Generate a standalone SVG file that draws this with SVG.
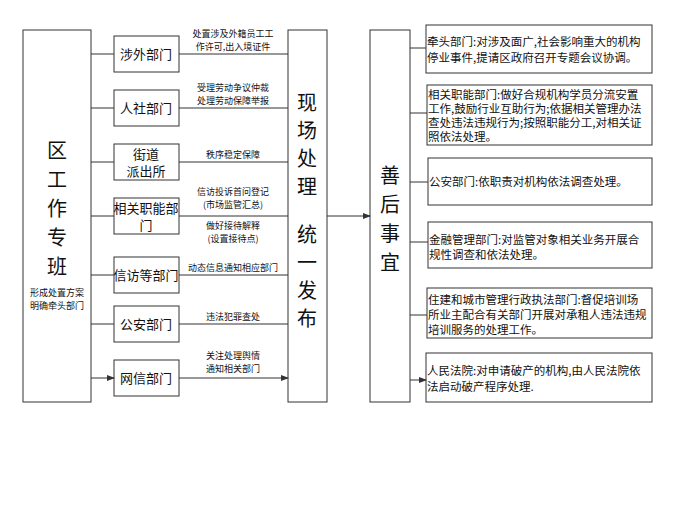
<svg xmlns="http://www.w3.org/2000/svg" width="700" height="525" viewBox="0 0 700 525">
<style>
.b{fill:#fff;stroke:#333;stroke-width:1}
text{font-family:"Noto Sans CJK SC","Noto Sans",sans-serif;fill:#111}
.d{font-size:13px;text-anchor:middle}
.s{font-size:9px;text-anchor:middle}
.r{font-size:11.5px}
.big{font-size:20px;text-anchor:middle}
.c{stroke:#333;stroke-width:1;fill:none;marker-end:url(#a)}
</style>
<defs><marker id="a" markerWidth="8" markerHeight="6" refX="7" refY="3" orient="auto" markerUnits="userSpaceOnUse"><path d="M0,0L8,3L0,6z" fill="#333"/></marker></defs>
<rect width="700" height="525" fill="#fff"/>
<g id="zb"><rect class="b" x="23" y="30" width="68" height="372"/>
<text class="big" x="57" y="158">区</text><text class="big" x="57" y="187">工</text><text class="big" x="57" y="216">作</text><text class="big" x="57" y="245">专</text><text class="big" x="57" y="274">班</text>
<text class="s" x="57" y="296">形成处置方案</text><text class="s" x="57" y="309">明确牵头部门</text></g>
<g id="n1"><rect class="b" x="114" y="36" width="65" height="36"/><text class="d" x="146" y="59">涉外部门</text></g>
<g id="n2"><rect class="b" x="114" y="90" width="65" height="36"/><text class="d" x="146" y="113">人社部门</text></g>
<g id="n3"><rect class="b" x="114" y="144" width="65" height="36"/><text class="d" x="146" y="159">街道</text><text class="d" x="146" y="176">派出所</text></g>
<g id="n4"><rect class="b" x="114" y="198" width="65" height="36"/><text class="d" x="146" y="213">相关职能部</text><text class="d" x="146" y="230">门</text></g>
<g id="n5"><rect class="b" x="114" y="257" width="65" height="36"/><text class="d" x="146" y="280">信访等部门</text></g>
<g id="n6"><rect class="b" x="114" y="306" width="65" height="36"/><text class="d" x="146" y="329">公安部门</text></g>
<g id="n7"><rect class="b" x="114" y="360" width="65" height="36"/><text class="d" x="146" y="383">网信部门</text></g>
<g id="xc"><rect class="b" x="288" y="30" width="39" height="372"/>
<text class="big" x="307" y="110">现</text><text class="big" x="307" y="138">场</text><text class="big" x="307" y="166">处</text><text class="big" x="307" y="194">理</text><text class="big" x="307" y="242">统</text><text class="big" x="307" y="270">一</text><text class="big" x="307" y="298">发</text><text class="big" x="307" y="326">布</text></g>
<g id="sh"><rect class="b" x="370" y="30" width="40" height="372"/>
<text class="big" x="390" y="183">善</text><text class="big" x="390" y="212">后</text><text class="big" x="390" y="241">事</text><text class="big" x="390" y="270">宜</text></g>
<g id="r1"><rect class="b" x="426" y="25" width="226" height="48"/><text class="r" x="427" y="46">牵头部门:对涉及面广,社会影响重大的机构</text><text class="r" x="427" y="62">停业事件,提请区政府召开专题会议协调。</text></g>
<g id="r2"><rect class="b" x="427" y="85" width="225" height="60"/><text class="r" x="428" y="99">相关职能部门:做好合规机构学员分流安置</text><text class="r" x="428" y="113">工作,鼓励行业互助行为;依据相关管理办法</text><text class="r" x="428" y="127">查处违法违规行为;按照职能分工,对相关证</text><text class="r" x="428" y="141">照依法处理。</text></g>
<g id="r3"><rect class="b" x="428" y="158" width="224" height="47"/><text class="r" x="429" y="186">公安部门:依职责对机构依法调查处理。</text></g>
<g id="r4"><rect class="b" x="428" y="222" width="224" height="46"/><text class="r" x="429" y="244">金融管理部门:对监管对象相关业务开展合</text><text class="r" x="429" y="259">规性调查和依法处理。</text></g>
<g id="r5"><rect class="b" x="427" y="288" width="225" height="50"/><text class="r" x="428" y="304">住建和城市管理行政执法部门:督促培训场</text><text class="r" x="428" y="319">所业主配合有关部门开展对承租人违法违规</text><text class="r" x="428" y="334">培训服务的处理工作。</text></g>
<g id="r6"><rect class="b" x="426" y="353" width="226" height="49"/><text class="r" x="427" y="375">人民法院:对申请破产的机构,由人民法院依</text><text class="r" x="427" y="391">法启动破产程序处理.</text></g>
<g id="connectors">
<path class="c" d="M91,54H114M91,108H114M91,162H114M91,216H114M91,275H114M91,324H114M91,378H114"/>
<path class="c" d="M179,54H288M179,108H288M179,162H288M179,216H288M179,275H288M179,324H288M179,378H288"/>
<path class="c" d="M327,216H370"/>
<path class="c" d="M410,48H426M410,113H427M410,182H428M410,242H428M410,315H427M410,380H426"/>
</g>
<g id="labels">
<text class="s" x="233" y="37">处置涉及外籍员工工</text><text class="s" x="233" y="50">作许可,出入境证件</text>
<text class="s" x="233" y="91">受理劳动争议仲裁</text><text class="s" x="233" y="104">处理劳动保障举报</text>
<text class="s" x="233" y="158">秩序稳定保障</text>
<text class="s" x="233" y="195">信访投诉首问登记</text><text class="s" x="233" y="208">(市场监管汇总)</text>
<text class="s" x="233" y="229">做好接待解释</text><text class="s" x="233" y="242">(设置接待点)</text>
<text class="s" x="233" y="271">动态信息通知相应部门</text>
<text class="s" x="233" y="320">违法犯罪查处</text>
<text class="s" x="233" y="359">关注处理舆情</text><text class="s" x="233" y="372">通知相关部门</text>
</g>
</svg>
